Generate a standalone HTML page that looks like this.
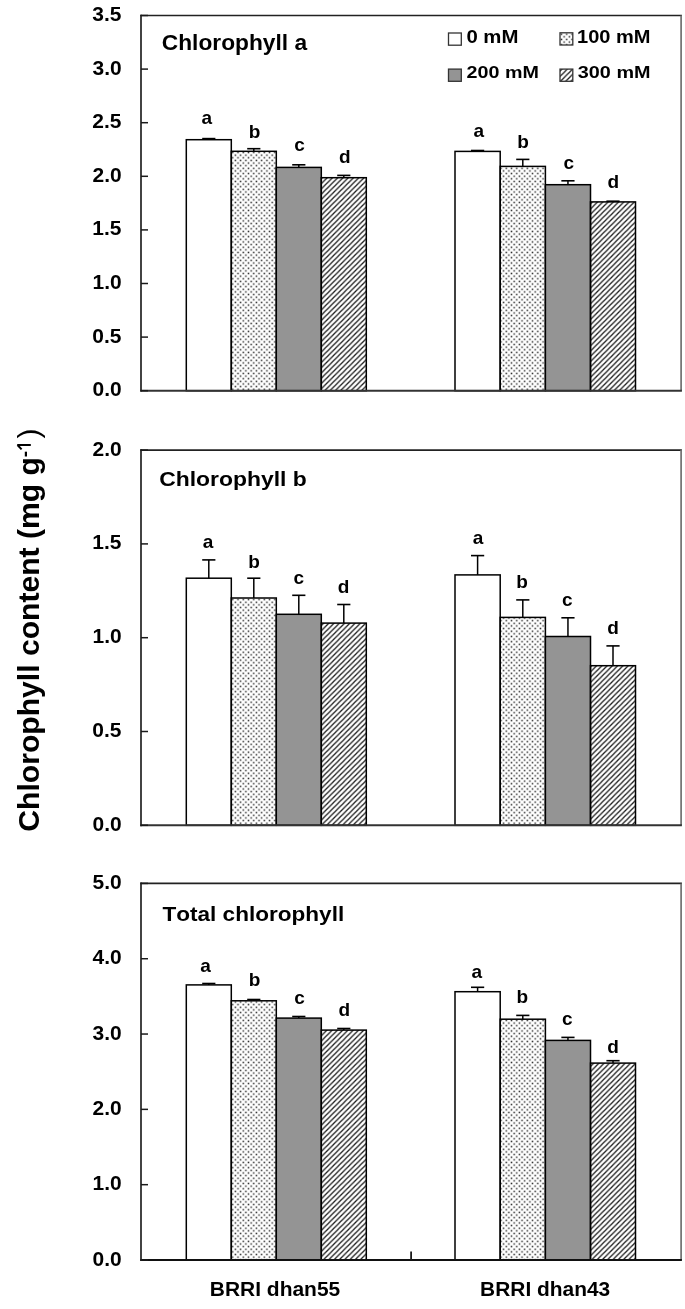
<!DOCTYPE html>
<html><head><meta charset="utf-8"><style>
html,body{margin:0;padding:0;background:#fff;width:685px;height:1309px;overflow:hidden}
svg{display:block;will-change:transform}
text{font-family:"Liberation Sans",sans-serif;font-weight:bold;font-kerning:none;fill:#000}
</style></head><body>
<svg width="685" height="1309" viewBox="0 0 685 1309">
<defs>
<pattern id="dots" patternUnits="userSpaceOnUse" x="0" y="-1.3" width="5.26" height="5.26">
<rect x="0.55" y="0.55" width="1.5" height="1.5" fill="#2a2a2a"/><rect x="3.18" y="3.18" width="1.5" height="1.5" fill="#2a2a2a"/>
</pattern>
<pattern id="hatch" patternUnits="userSpaceOnUse" x="0" y="0" width="5.26" height="5.26">
<path d="M-1.5,6.76 L6.76,-1.5 M-1.5,1.5 L1.5,-1.5 M3.76,6.76 L6.76,3.76" stroke="#1a1a1a" stroke-width="1.25"/>
</pattern>
</defs>
<rect width="685" height="1309" fill="#fff"/>
<rect x="186.30" y="139.70" width="45.00" height="251.00" fill="#ffffff" stroke="#000" stroke-width="1.5"/>
<rect x="231.30" y="151.30" width="45.00" height="239.40" fill="url(#dots)" stroke="#000" stroke-width="1.5"/>
<rect x="276.30" y="167.40" width="45.00" height="223.30" fill="#949494" stroke="#000" stroke-width="1.5"/>
<rect x="321.30" y="177.70" width="45.00" height="213.00" fill="url(#hatch)" stroke="#000" stroke-width="1.5"/>
<line x1="208.80" y1="138.60" x2="208.80" y2="139.70" stroke="#000" stroke-width="1.5"/>
<line x1="202.20" y1="138.60" x2="215.40" y2="138.60" stroke="#000" stroke-width="1.6"/>
<line x1="253.80" y1="148.70" x2="253.80" y2="151.30" stroke="#000" stroke-width="1.5"/>
<line x1="247.20" y1="148.70" x2="260.40" y2="148.70" stroke="#000" stroke-width="1.6"/>
<line x1="298.80" y1="164.80" x2="298.80" y2="167.40" stroke="#000" stroke-width="1.5"/>
<line x1="292.20" y1="164.80" x2="305.40" y2="164.80" stroke="#000" stroke-width="1.6"/>
<line x1="343.80" y1="175.40" x2="343.80" y2="177.70" stroke="#000" stroke-width="1.5"/>
<line x1="337.20" y1="175.40" x2="350.40" y2="175.40" stroke="#000" stroke-width="1.6"/>
<rect x="455.00" y="151.40" width="45.20" height="239.30" fill="#ffffff" stroke="#000" stroke-width="1.5"/>
<rect x="500.20" y="166.40" width="45.20" height="224.30" fill="url(#dots)" stroke="#000" stroke-width="1.5"/>
<rect x="545.40" y="184.70" width="45.10" height="206.00" fill="#949494" stroke="#000" stroke-width="1.5"/>
<rect x="590.50" y="201.90" width="45.00" height="188.80" fill="url(#hatch)" stroke="#000" stroke-width="1.5"/>
<line x1="477.60" y1="150.50" x2="477.60" y2="151.40" stroke="#000" stroke-width="1.5"/>
<line x1="471.00" y1="150.50" x2="484.20" y2="150.50" stroke="#000" stroke-width="1.6"/>
<line x1="522.80" y1="159.40" x2="522.80" y2="166.40" stroke="#000" stroke-width="1.5"/>
<line x1="516.20" y1="159.40" x2="529.40" y2="159.40" stroke="#000" stroke-width="1.6"/>
<line x1="567.95" y1="180.80" x2="567.95" y2="184.70" stroke="#000" stroke-width="1.5"/>
<line x1="561.35" y1="180.80" x2="574.55" y2="180.80" stroke="#000" stroke-width="1.6"/>
<line x1="613.00" y1="201.20" x2="613.00" y2="201.90" stroke="#000" stroke-width="1.5"/>
<line x1="606.40" y1="201.20" x2="619.60" y2="201.20" stroke="#000" stroke-width="1.6"/>
<text transform="translate(201.43,124.40) scale(1.0000,1)" font-size="19.00">a</text>
<text transform="translate(248.86,137.60) scale(1.0000,1)" font-size="19.00">b</text>
<text transform="translate(294.32,150.70) scale(1.0000,1)" font-size="19.00">c</text>
<text transform="translate(339.08,162.80) scale(1.0000,1)" font-size="19.00">d</text>
<text transform="translate(473.38,137.30) scale(1.0000,1)" font-size="19.00">a</text>
<text transform="translate(517.16,148.20) scale(1.0000,1)" font-size="19.00">b</text>
<text transform="translate(563.57,169.20) scale(1.0000,1)" font-size="19.00">c</text>
<text transform="translate(607.43,188.00) scale(1.0000,1)" font-size="19.00">d</text>
<line x1="140.20" y1="15.50" x2="681.90" y2="15.50" stroke="#222" stroke-width="1.6"/>
<line x1="681.10" y1="15.50" x2="681.10" y2="390.70" stroke="#707070" stroke-width="1.7"/>
<line x1="140.20" y1="390.70" x2="681.90" y2="390.70" stroke="#333" stroke-width="1.9"/>
<line x1="141.00" y1="14.70" x2="141.00" y2="391.60" stroke="#222" stroke-width="1.7"/>
<line x1="141.00" y1="390.70" x2="148.00" y2="390.70" stroke="#1a1a1a" stroke-width="1.5"/>
<text transform="translate(92.58,396.20) scale(1.0710,1)" font-size="19.60">0.0</text>
<line x1="141.00" y1="337.10" x2="148.00" y2="337.10" stroke="#1a1a1a" stroke-width="1.5"/>
<text transform="translate(92.30,342.60) scale(1.0710,1)" font-size="19.60">0.5</text>
<line x1="141.00" y1="283.50" x2="148.00" y2="283.50" stroke="#1a1a1a" stroke-width="1.5"/>
<text transform="translate(92.58,289.00) scale(1.0710,1)" font-size="19.60">1.0</text>
<line x1="141.00" y1="229.90" x2="148.00" y2="229.90" stroke="#1a1a1a" stroke-width="1.5"/>
<text transform="translate(92.30,235.40) scale(1.0710,1)" font-size="19.60">1.5</text>
<line x1="141.00" y1="176.30" x2="148.00" y2="176.30" stroke="#1a1a1a" stroke-width="1.5"/>
<text transform="translate(92.58,181.80) scale(1.0710,1)" font-size="19.60">2.0</text>
<line x1="141.00" y1="122.70" x2="148.00" y2="122.70" stroke="#1a1a1a" stroke-width="1.5"/>
<text transform="translate(92.30,128.20) scale(1.0710,1)" font-size="19.60">2.5</text>
<line x1="141.00" y1="69.10" x2="148.00" y2="69.10" stroke="#1a1a1a" stroke-width="1.5"/>
<text transform="translate(92.58,74.60) scale(1.0710,1)" font-size="19.60">3.0</text>
<line x1="141.00" y1="15.50" x2="148.00" y2="15.50" stroke="#1a1a1a" stroke-width="1.5"/>
<text transform="translate(92.30,21.00) scale(1.0710,1)" font-size="19.60">3.5</text>
<text transform="translate(161.77,50.00) scale(1.0707,1)" font-size="21.25">Chlorophyll a</text>
<rect x="186.30" y="578.20" width="45.00" height="247.10" fill="#ffffff" stroke="#000" stroke-width="1.5"/>
<rect x="231.30" y="598.00" width="45.00" height="227.30" fill="url(#dots)" stroke="#000" stroke-width="1.5"/>
<rect x="276.30" y="614.30" width="45.00" height="211.00" fill="#949494" stroke="#000" stroke-width="1.5"/>
<rect x="321.30" y="623.10" width="45.00" height="202.20" fill="url(#hatch)" stroke="#000" stroke-width="1.5"/>
<line x1="208.80" y1="559.90" x2="208.80" y2="578.20" stroke="#000" stroke-width="1.5"/>
<line x1="202.20" y1="559.90" x2="215.40" y2="559.90" stroke="#000" stroke-width="1.6"/>
<line x1="253.80" y1="578.20" x2="253.80" y2="598.00" stroke="#000" stroke-width="1.5"/>
<line x1="247.20" y1="578.20" x2="260.40" y2="578.20" stroke="#000" stroke-width="1.6"/>
<line x1="298.80" y1="595.30" x2="298.80" y2="614.30" stroke="#000" stroke-width="1.5"/>
<line x1="292.20" y1="595.30" x2="305.40" y2="595.30" stroke="#000" stroke-width="1.6"/>
<line x1="343.80" y1="604.50" x2="343.80" y2="623.10" stroke="#000" stroke-width="1.5"/>
<line x1="337.20" y1="604.50" x2="350.40" y2="604.50" stroke="#000" stroke-width="1.6"/>
<rect x="455.00" y="574.90" width="45.20" height="250.40" fill="#ffffff" stroke="#000" stroke-width="1.5"/>
<rect x="500.20" y="617.40" width="45.20" height="207.90" fill="url(#dots)" stroke="#000" stroke-width="1.5"/>
<rect x="545.40" y="636.50" width="45.10" height="188.80" fill="#949494" stroke="#000" stroke-width="1.5"/>
<rect x="590.50" y="665.70" width="45.00" height="159.60" fill="url(#hatch)" stroke="#000" stroke-width="1.5"/>
<line x1="477.60" y1="555.60" x2="477.60" y2="574.90" stroke="#000" stroke-width="1.5"/>
<line x1="471.00" y1="555.60" x2="484.20" y2="555.60" stroke="#000" stroke-width="1.6"/>
<line x1="522.80" y1="599.90" x2="522.80" y2="617.40" stroke="#000" stroke-width="1.5"/>
<line x1="516.20" y1="599.90" x2="529.40" y2="599.90" stroke="#000" stroke-width="1.6"/>
<line x1="567.95" y1="617.80" x2="567.95" y2="636.50" stroke="#000" stroke-width="1.5"/>
<line x1="561.35" y1="617.80" x2="574.55" y2="617.80" stroke="#000" stroke-width="1.6"/>
<line x1="613.00" y1="645.90" x2="613.00" y2="665.70" stroke="#000" stroke-width="1.5"/>
<line x1="606.40" y1="645.90" x2="619.60" y2="645.90" stroke="#000" stroke-width="1.6"/>
<text transform="translate(202.78,548.20) scale(1.0000,1)" font-size="19.00">a</text>
<text transform="translate(248.26,568.00) scale(1.0000,1)" font-size="19.00">b</text>
<text transform="translate(293.62,583.90) scale(1.0000,1)" font-size="19.00">c</text>
<text transform="translate(337.73,593.20) scale(1.0000,1)" font-size="19.00">d</text>
<text transform="translate(472.78,544.00) scale(1.0000,1)" font-size="19.00">a</text>
<text transform="translate(516.26,588.00) scale(1.0000,1)" font-size="19.00">b</text>
<text transform="translate(562.12,606.30) scale(1.0000,1)" font-size="19.00">c</text>
<text transform="translate(607.23,634.30) scale(1.0000,1)" font-size="19.00">d</text>
<line x1="140.20" y1="450.10" x2="681.90" y2="450.10" stroke="#222" stroke-width="1.6"/>
<line x1="681.10" y1="450.10" x2="681.10" y2="825.30" stroke="#707070" stroke-width="1.7"/>
<line x1="140.20" y1="825.30" x2="681.90" y2="825.30" stroke="#333" stroke-width="1.9"/>
<line x1="141.00" y1="449.30" x2="141.00" y2="826.20" stroke="#222" stroke-width="1.7"/>
<line x1="141.00" y1="825.30" x2="148.00" y2="825.30" stroke="#1a1a1a" stroke-width="1.5"/>
<text transform="translate(92.58,830.80) scale(1.0710,1)" font-size="19.60">0.0</text>
<line x1="141.00" y1="731.50" x2="148.00" y2="731.50" stroke="#1a1a1a" stroke-width="1.5"/>
<text transform="translate(92.30,737.00) scale(1.0710,1)" font-size="19.60">0.5</text>
<line x1="141.00" y1="637.70" x2="148.00" y2="637.70" stroke="#1a1a1a" stroke-width="1.5"/>
<text transform="translate(92.58,643.20) scale(1.0710,1)" font-size="19.60">1.0</text>
<line x1="141.00" y1="543.90" x2="148.00" y2="543.90" stroke="#1a1a1a" stroke-width="1.5"/>
<text transform="translate(92.30,549.40) scale(1.0710,1)" font-size="19.60">1.5</text>
<line x1="141.00" y1="450.10" x2="148.00" y2="450.10" stroke="#1a1a1a" stroke-width="1.5"/>
<text transform="translate(92.58,455.60) scale(1.0710,1)" font-size="19.60">2.0</text>
<text transform="translate(159.16,485.80) scale(1.0861,1)" font-size="21.11">Chlorophyll b</text>
<rect x="186.30" y="984.90" width="45.00" height="275.10" fill="#ffffff" stroke="#000" stroke-width="1.5"/>
<rect x="231.30" y="1000.80" width="45.00" height="259.20" fill="url(#dots)" stroke="#000" stroke-width="1.5"/>
<rect x="276.30" y="1018.10" width="45.00" height="241.90" fill="#949494" stroke="#000" stroke-width="1.5"/>
<rect x="321.30" y="1030.10" width="45.00" height="229.90" fill="url(#hatch)" stroke="#000" stroke-width="1.5"/>
<line x1="208.80" y1="983.50" x2="208.80" y2="984.90" stroke="#000" stroke-width="1.5"/>
<line x1="202.20" y1="983.50" x2="215.40" y2="983.50" stroke="#000" stroke-width="1.6"/>
<line x1="253.80" y1="999.50" x2="253.80" y2="1000.80" stroke="#000" stroke-width="1.5"/>
<line x1="247.20" y1="999.50" x2="260.40" y2="999.50" stroke="#000" stroke-width="1.6"/>
<line x1="298.80" y1="1016.50" x2="298.80" y2="1018.10" stroke="#000" stroke-width="1.5"/>
<line x1="292.20" y1="1016.50" x2="305.40" y2="1016.50" stroke="#000" stroke-width="1.6"/>
<line x1="343.80" y1="1028.50" x2="343.80" y2="1030.10" stroke="#000" stroke-width="1.5"/>
<line x1="337.20" y1="1028.50" x2="350.40" y2="1028.50" stroke="#000" stroke-width="1.6"/>
<rect x="455.00" y="991.70" width="45.20" height="268.30" fill="#ffffff" stroke="#000" stroke-width="1.5"/>
<rect x="500.20" y="1019.20" width="45.20" height="240.80" fill="url(#dots)" stroke="#000" stroke-width="1.5"/>
<rect x="545.40" y="1040.40" width="45.10" height="219.60" fill="#949494" stroke="#000" stroke-width="1.5"/>
<rect x="590.50" y="1063.10" width="45.00" height="196.90" fill="url(#hatch)" stroke="#000" stroke-width="1.5"/>
<line x1="477.60" y1="987.30" x2="477.60" y2="991.70" stroke="#000" stroke-width="1.5"/>
<line x1="471.00" y1="987.30" x2="484.20" y2="987.30" stroke="#000" stroke-width="1.6"/>
<line x1="522.80" y1="1015.40" x2="522.80" y2="1019.20" stroke="#000" stroke-width="1.5"/>
<line x1="516.20" y1="1015.40" x2="529.40" y2="1015.40" stroke="#000" stroke-width="1.6"/>
<line x1="567.95" y1="1037.40" x2="567.95" y2="1040.40" stroke="#000" stroke-width="1.5"/>
<line x1="561.35" y1="1037.40" x2="574.55" y2="1037.40" stroke="#000" stroke-width="1.6"/>
<line x1="613.00" y1="1060.70" x2="613.00" y2="1063.10" stroke="#000" stroke-width="1.5"/>
<line x1="606.40" y1="1060.70" x2="619.60" y2="1060.70" stroke="#000" stroke-width="1.6"/>
<text transform="translate(200.13,972.10) scale(1.0000,1)" font-size="19.00">a</text>
<text transform="translate(248.76,985.60) scale(1.0000,1)" font-size="19.00">b</text>
<text transform="translate(294.27,1003.90) scale(1.0000,1)" font-size="19.00">c</text>
<text transform="translate(338.58,1016.30) scale(1.0000,1)" font-size="19.00">d</text>
<text transform="translate(471.53,977.50) scale(1.0000,1)" font-size="19.00">a</text>
<text transform="translate(516.56,1003.30) scale(1.0000,1)" font-size="19.00">b</text>
<text transform="translate(562.12,1025.00) scale(1.0000,1)" font-size="19.00">c</text>
<text transform="translate(607.23,1052.90) scale(1.0000,1)" font-size="19.00">d</text>
<line x1="140.20" y1="883.40" x2="681.90" y2="883.40" stroke="#222" stroke-width="1.6"/>
<line x1="681.10" y1="883.40" x2="681.10" y2="1260.00" stroke="#707070" stroke-width="1.7"/>
<line x1="140.20" y1="1260.00" x2="681.90" y2="1260.00" stroke="#111" stroke-width="2.1"/>
<line x1="141.00" y1="882.60" x2="141.00" y2="1260.90" stroke="#222" stroke-width="1.7"/>
<line x1="141.00" y1="1260.00" x2="148.00" y2="1260.00" stroke="#1a1a1a" stroke-width="1.5"/>
<text transform="translate(92.58,1265.50) scale(1.0710,1)" font-size="19.60">0.0</text>
<line x1="141.00" y1="1184.68" x2="148.00" y2="1184.68" stroke="#1a1a1a" stroke-width="1.5"/>
<text transform="translate(92.58,1190.18) scale(1.0710,1)" font-size="19.60">1.0</text>
<line x1="141.00" y1="1109.36" x2="148.00" y2="1109.36" stroke="#1a1a1a" stroke-width="1.5"/>
<text transform="translate(92.58,1114.86) scale(1.0710,1)" font-size="19.60">2.0</text>
<line x1="141.00" y1="1034.04" x2="148.00" y2="1034.04" stroke="#1a1a1a" stroke-width="1.5"/>
<text transform="translate(92.58,1039.54) scale(1.0710,1)" font-size="19.60">3.0</text>
<line x1="141.00" y1="958.72" x2="148.00" y2="958.72" stroke="#1a1a1a" stroke-width="1.5"/>
<text transform="translate(92.58,964.22) scale(1.0710,1)" font-size="19.60">4.0</text>
<line x1="141.00" y1="883.40" x2="148.00" y2="883.40" stroke="#1a1a1a" stroke-width="1.5"/>
<text transform="translate(92.58,888.90) scale(1.0710,1)" font-size="19.60">5.0</text>
<text transform="translate(162.45,920.60) scale(1.0691,1)" font-size="21.11">Total chlorophyll</text>
<line x1="411.1" y1="1251.4" x2="411.1" y2="1260" stroke="#1a1a1a" stroke-width="1.8"/>
<rect x="448.50" y="33.00" width="12.8" height="12.2" fill="#ffffff" stroke="#333" stroke-width="1.3"/>
<text transform="translate(466.39,42.50) scale(1.1658,1)" font-size="17.47">0 mM</text>
<rect x="560.00" y="32.80" width="12.8" height="12.2" fill="url(#dots)" stroke="#333" stroke-width="1.3"/>
<text transform="translate(577.04,42.50) scale(1.1467,1)" font-size="17.47">100 mM</text>
<rect x="448.50" y="69.10" width="12.8" height="12.2" fill="#949494" stroke="#333" stroke-width="1.3"/>
<text transform="translate(466.52,77.60) scale(1.1484,1)" font-size="17.19">200 mM</text>
<rect x="560.00" y="69.10" width="12.8" height="12.2" fill="url(#hatch)" stroke="#333" stroke-width="1.3"/>
<text transform="translate(577.85,77.60) scale(1.1528,1)" font-size="17.19">300 mM</text>
<text transform="translate(209.80,1296.20) scale(1.0478,1)" font-size="20.01">BRRI dhan55</text>
<text transform="translate(480.10,1296.20) scale(1.0452,1)" font-size="20.01">BRRI dhan43</text>
<text transform="translate(39.4,831.63) rotate(-90)" font-size="30.1">Chlorophyll content (mg g</text>
<text transform="translate(30.8,457.24) rotate(-90)" font-size="19">-</text>
<path d="M17.2,444.9 L30.8,444.9 M17.5,445.0 L21.6,449.4" stroke="#000" stroke-width="2" fill="none"/>
<text transform="translate(39.4,438.38) rotate(-90)" font-size="30.1" style="font-weight:normal">)</text>
</svg>
</body></html>
